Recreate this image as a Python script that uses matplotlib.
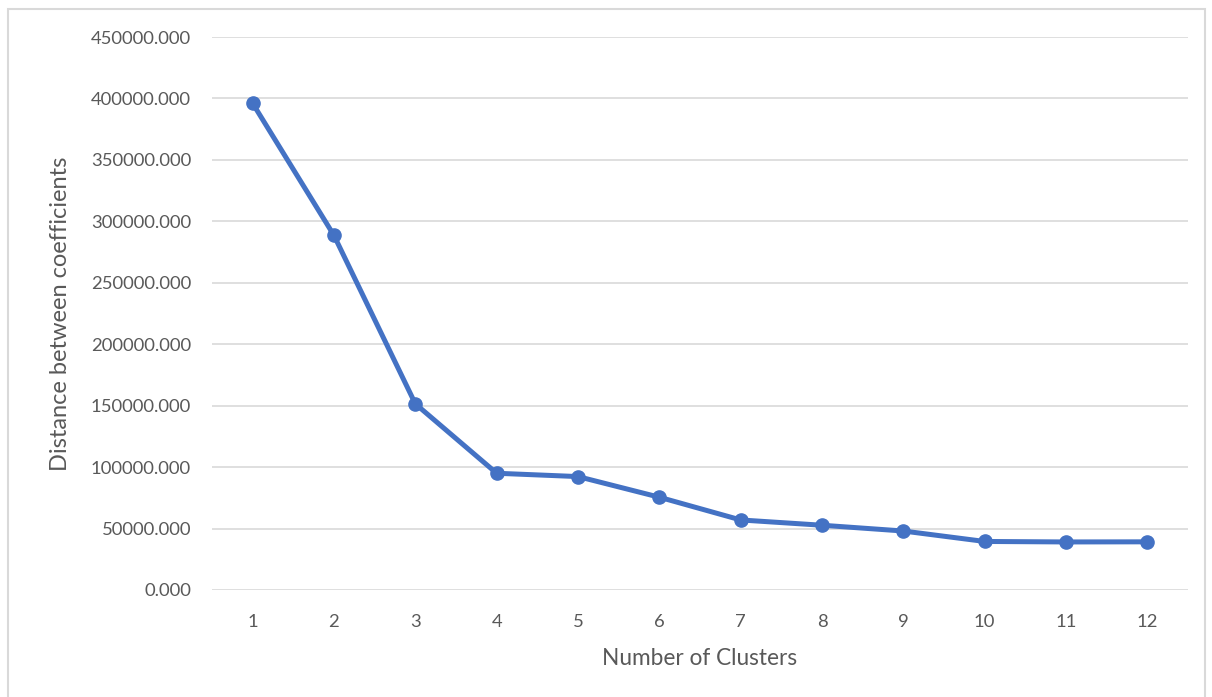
import matplotlib.pyplot as plt
from matplotlib.patches import Rectangle
from matplotlib.ticker import FuncFormatter

# elbow curve data
clusters = [1, 2, 3, 4, 5, 6, 7, 8, 9, 10, 11, 12]
distance = [396000, 288500, 151500, 95000, 92300, 75500, 57000, 52700,
            48000, 39500, 39100, 39200]
yticks = [0, 50000, 100000, 150000, 200000, 250000, 300000, 350000, 400000, 450000]

plt.rcParams['font.family'] = ['Lato', 'DejaVu Sans']

fig = plt.figure(figsize=(12.12, 6.97), dpi=100)
W, H = 1212, 697
ax = fig.add_axes([212 / W, 1 - 590 / H, (1188 - 212) / W, (590 - 37) / H])

# outer chart frame
fig.patches.append(Rectangle((8 / W, -0.01), (1205 - 8) / W, 1 - 9 / H + 0.01,
                             transform=fig.transFigure, fill=False,
                             edgecolor='#D9D9D9', linewidth=1.5))

ax.plot(clusters, distance, color='#4472C4', linewidth=3.6, marker='o',
        markersize=9.5, solid_capstyle='round', solid_joinstyle='round', zorder=3)

ax.set_xlim(0.5, 12.5)
ax.set_ylim(0, 450000)
ax.set_xticks(clusters)
ax.set_yticks(yticks)
ax.yaxis.set_major_formatter(FuncFormatter(lambda v, p: f'{v:.3f}'))

ax.grid(axis='y', color='#D9D9D9', linewidth=1.2, zorder=0)
ax.set_axisbelow(True)
for s in ax.spines.values():
    s.set_visible(False)
ax.tick_params(length=0, labelsize=13.3, labelcolor='#595959')
ax.tick_params(axis='y', pad=15)
ax.tick_params(axis='x', pad=17)

ax.set_xlabel('Number of Clusters', fontsize=16.3, color='#595959', labelpad=13)
ax.set_ylabel('Distance between coefficients', fontsize=17, color='#595959', labelpad=14)

fig.savefig('out.png', dpi=100)
